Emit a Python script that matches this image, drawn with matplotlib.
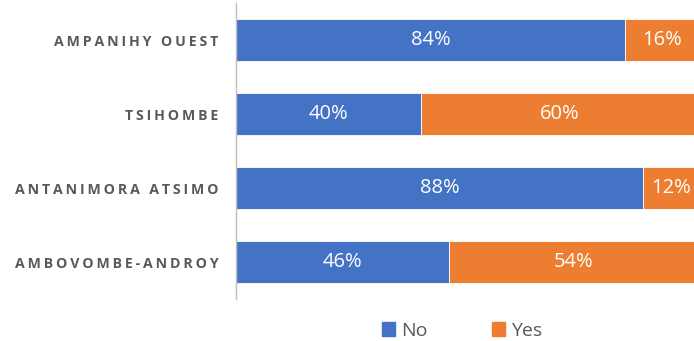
import numpy as np
import matplotlib.pyplot as plt
from matplotlib.patches import Patch

regions = ['AMPANIHY OUEST', 'TSIHOMBE', 'ANTANIMORA ATSIMO', 'AMBOVOMBE-ANDROY']
no_pct = [84, 40, 88, 46]
yes_pct = [16, 60, 12, 54]

blue = '#4472C4'
orange = '#ED7D31'
grey = '#595959'

plt.rcParams['font.family'] = ['Open Sans', 'DejaVu Sans']


def spaced(s):
    # wide tracking for the category labels
    words = s.split(' ')
    return '\u2009 \u2009'.join('\u2009'.join(w) for w in words)


fig = plt.figure(figsize=(6.94, 3.41), dpi=100)
ax = fig.add_axes([236 / 694, 1 - 299 / 341, 463 / 694, 296 / 341])

y = np.arange(len(regions))
h = 0.56
ax.barh(y, no_pct, height=h, color=blue, edgecolor='white', linewidth=0.6)
ax.barh(y, yes_pct, left=no_pct, height=h, color=orange, edgecolor='white', linewidth=0.6)

for i in range(len(regions)):
    ax.text(no_pct[i] / 2, y[i], f'{no_pct[i]}%', ha='center', va='center',
            color='white', fontsize=14.5)
    ax.text(no_pct[i] + yes_pct[i] / 2, y[i], f'{yes_pct[i]}%', ha='center', va='center',
            color='white', fontsize=14.5)

ax.set_xlim(0, 100)
ax.set_ylim(len(regions) - 0.5, -0.5)
ax.set_yticks(y)
ax.set_yticklabels([spaced(r) for r in regions], fontsize=10.2, fontweight='bold', color=grey)
ax.tick_params(axis='y', length=0, pad=12.5)
ax.set_xticks([])
for side in ['top', 'right', 'bottom']:
    ax.spines[side].set_visible(False)
ax.spines['left'].set_color('#BFBFBF')
ax.spines['left'].set_linewidth(1)

handles = [Patch(color=blue, label='No'), Patch(color=orange, label='Yes')]
fig.legend(handles=handles, loc='center', bbox_to_anchor=(462 / 694, 1 - 331 / 341),
           ncol=2, frameon=False, fontsize=14, labelcolor=grey,
           handlelength=0.7, handleheight=0.7, handletextpad=0.3, columnspacing=3.3)

fig.savefig('out.png', dpi=100)
